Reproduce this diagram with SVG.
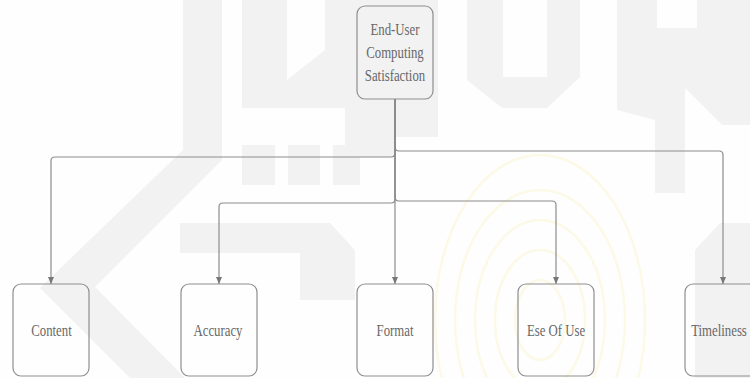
<svg xmlns="http://www.w3.org/2000/svg" width="750" height="378" viewBox="0 0 750 378">
  <style>
    .wm { fill: #f2f2f2; stroke: none; }
    .ring { fill: none; stroke: #fcf9e6; stroke-width: 2.5; }
    .box { fill: none; stroke: #8e8e8e; stroke-width: 1.2; }
    .lbl { font-family: "Liberation Serif", "Times New Roman", serif; font-size: 12.8px; fill: #686868; text-anchor: middle; }
    .edge { fill: none; stroke: #8c8c8c; stroke-width: 1.2; marker-end: url(#arrow); }
  </style>
  <defs>
    <marker id="arrow" markerUnits="userSpaceOnUse" markerWidth="8" markerHeight="7" refX="7" refY="3" orient="auto">
      <path d="M0,0 L7,3 L0,6 z" fill="#777777"/>
    </marker>
  </defs>
  <rect width="750" height="378" fill="#fefefe"/>
  <g id="watermark">
    <polygon class="wm" points="183,0 222,0 222,160 95,287 185,378 130,378 40,288 183,150"/>
    <polygon class="wm" points="242,0 287,0 287,80 325,50 325,0 360,0 360,108 345,108 242,108"/>
    <rect class="wm" x="242" y="145" width="33" height="40"/>
    <rect class="wm" x="288" y="145" width="32" height="40"/>
    <rect class="wm" x="333" y="145" width="27" height="40"/>
    <polygon class="wm" points="345,0 438,0 438,137 395,137 395,157 345,157"/>
    <polygon class="wm" points="467,0 503,0 503,77 547,77 547,0 580,0 580,77 547,108 502,108 467,80"/>
    <polygon class="wm" points="617,0 657,0 657,28 697,28 697,0 750,0 750,125 722,125 685,88 685,193 655,193 655,120 617,110"/>
    <polygon class="wm" points="720,223 750,223 750,378 695,378 695,250"/>
    <polygon class="wm" points="180,223 330,223 355,250 355,300 300,300 300,253 180,253"/>
    <g id="rings">
      <ellipse class="ring" cx="540" cy="320" rx="25" ry="40"/>
      <ellipse class="ring" cx="540" cy="320" rx="45" ry="70"/>
      <ellipse class="ring" cx="540" cy="320" rx="65" ry="100"/>
      <ellipse class="ring" cx="540" cy="320" rx="85" ry="130"/>
      <ellipse class="ring" cx="540" cy="320" rx="105" ry="165"/>
    </g>
  </g>
  <g id="connectors">
    <path class="edge" d="M395,99 V153 Q395,157 391,157 H55 Q51,157 51,161 V284"/>
    <path class="edge" d="M395,99 V147 Q395,151 399,151 H719 Q723,151 723,155 V284"/>
    <path class="edge" d="M395,99 V199 Q395,203 391,203 H223 Q219,203 219,207 V284"/>
    <path class="edge" d="M395,99 V197 Q395,201 399,201 H552 Q556,201 556,205 V284"/>
    <path class="edge" d="M395,99 V284"/>
  </g>
  <g id="node-eucs">
    <rect class="box" x="357" y="6" width="76" height="93" rx="8"/>
    <text class="lbl" transform="translate(395,35) scale(1,1.38)">End-User</text>
    <text class="lbl" transform="translate(395,58) scale(1,1.38)">Computing</text>
    <text class="lbl" transform="translate(395,81) scale(1,1.38)">Satisfaction</text>
  </g>
  <g id="node-content">
    <rect class="box" x="13" y="284" width="76" height="92" rx="8"/>
    <text class="lbl" transform="translate(51.5,336) scale(1,1.38)">Content</text>
  </g>
  <g id="node-accuracy">
    <rect class="box" x="181" y="284" width="76" height="92" rx="8"/>
    <text class="lbl" transform="translate(218,336) scale(1,1.38)">Accuracy</text>
  </g>
  <g id="node-format">
    <rect class="box" x="357" y="284" width="76" height="92" rx="8"/>
    <text class="lbl" transform="translate(395,336) scale(1,1.38)">Format</text>
  </g>
  <g id="node-ease">
    <rect class="box" x="518" y="284" width="76" height="92" rx="8"/>
    <text class="lbl" transform="translate(556,336) scale(1,1.38)">Ese Of Use</text>
  </g>
  <g id="node-timeliness">
    <rect class="box" x="685" y="284" width="76" height="92" rx="8"/>
    <text class="lbl" transform="translate(719,336) scale(1,1.38)">Timeliness</text>
  </g>
</svg>
